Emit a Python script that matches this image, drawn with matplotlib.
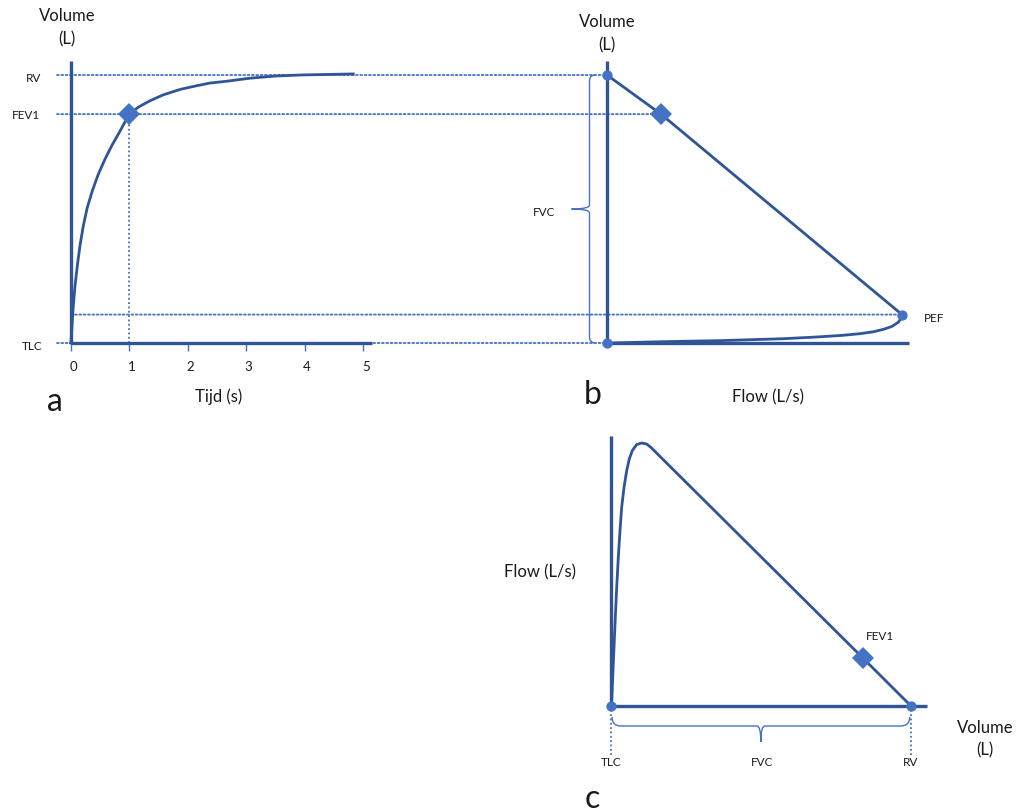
import matplotlib
matplotlib.use("Agg")
import matplotlib.pyplot as plt
from matplotlib.patches import ConnectionPatch, PathPatch
from matplotlib.path import Path

# ---------------- data ----------------
# panel a: volume-time curve (spirogram)
time_s = [0.0, 0.005, 0.022, 0.045, 0.074, 0.113, 0.159, 0.216, 0.284, 0.370, 0.472, 0.586,
          0.701, 0.831, 1.0, 1.156, 1.356, 1.583, 1.868, 2.154, 2.381, 2.64, 3.06, 3.49, 3.92, 4.83]
volume_a = [0.0, 0.013, 0.32, 0.70, 1.07, 1.44, 1.82, 2.19, 2.53, 2.84, 3.15, 3.43,
            3.68, 3.93, 4.27, 4.40, 4.52, 4.63, 4.73, 4.80, 4.85, 4.88, 4.94, 4.98, 5.0, 5.02]
time_ticks = [0, 1, 2, 3, 4, 5]
tick_labels = ["0", "1", "2", "3", "4", "5"]
TLC = 0.0
RV = 5.0
FEV1_time = 1.0
FEV1_vol = 4.27
PEF_vol = 0.53

# panel b: flow (x) vs volume (y)
flow_b = [0.0, 0.33, 1.46, 2.59, 3.74, 4.85, 5.98, 7.11, 8.01, 8.58, 9.04, 9.38, 9.66,
          9.88, 9.99, 10.0, 1.83, 0.0]
volume_b = [0.0, 0.003, 0.019, 0.032, 0.043, 0.061, 0.080, 0.112, 0.144, 0.174, 0.211, 0.256,
            0.31, 0.39, 0.48, 0.53, 4.27, 5.0]
PEF = 10.0
FEV1_flow_b = 1.83

# panel c: volume (x) vs flow (y)
volume_c = [0.0, 0.012, 0.038, 0.067, 0.095, 0.122, 0.150, 0.178, 0.217, 0.262, 0.305, 0.355,
            0.428, 0.512, 0.595, 0.667, 4.20, 5.0]
flow_c = [0.0, 0.19, 1.59, 3.11, 4.51, 5.65, 6.66, 7.55, 8.31, 8.95, 9.39, 9.71,
          9.94, 10.0, 9.96, 9.83, 1.82, 0.0]
FEV1_vol_c = 4.20
FEV1_flow_c = 1.82

# ---------------- style ----------------
W, H, DPI = 1018, 812, 100
LINE = "#2F5597"
MARK = "#4472C4"
DOT = "#4472C4"
TXT = "#1a1a1a"
DOTSTYLE = (0, (1, 1.4))
plt.rcParams["font.family"] = ["Lato", "DejaVu Sans"]

fig = plt.figure(figsize=(W / DPI, H / DPI), dpi=DPI)

# pixel mappings (layout)
xa = lambda t: 70.7 + 58.5 * t
ya = lambda v: 344.0 - 53.6 * v
ta = lambda px: (px - 70.7) / 58.5
Va = lambda py: (344.0 - py) / 53.6
xb = lambda f: 607.0 + 29.5 * f
Fb = lambda px: (px - 607.0) / 29.5
xc = lambda v: 611.0 + 59.94 * v
yc = lambda f: 706.7 - 26.27 * f
Vc = lambda px: (px - 611.0) / 59.94
Fc = lambda py: (706.7 - py) / 26.27


def axes_px(left, top, right, bottom, xinv, yinv):
    ax = fig.add_axes([left / W, 1 - bottom / H, (right - left) / W, (bottom - top) / H])
    ax.set_xlim(xinv(left), xinv(right))
    ax.set_ylim(yinv(bottom), yinv(top))
    ax.axis("off")
    ax.patch.set_alpha(0)
    return ax


def ptext(x, y, s, size=8.5, **kw):
    fig.text(x / W, 1 - y / H, s, fontsize=size, color=TXT, ha=kw.pop("ha", "center"),
             va=kw.pop("va", "center"), **kw)


ax_a = axes_px(0, 0, 430, 430, ta, Va)
ax_b = axes_px(450, 0, 1018, 430, Fb, Va)
ax_c = axes_px(450, 430, 1018, 812, Vc, Fc)

# overlay axes in pixel coordinates for braces
ax_o = fig.add_axes([0, 0, 1, 1])
ax_o.set_xlim(0, W)
ax_o.set_ylim(H, 0)
ax_o.axis("off")
ax_o.patch.set_alpha(0)

DIA = 11.5
DOTMS = 7.4

# ---------------- panel a ----------------
ax_a.plot([0, 0], [TLC, Va(62)], color=LINE, lw=2.4, solid_capstyle="butt", zorder=3)
ax_a.plot([0, ta(372)], [TLC, TLC], color=LINE, lw=2.4, solid_capstyle="butt", zorder=3)
ax_a.vlines(time_ticks, Va(352), TLC, color=MARK, lw=1.0, zorder=2)
ax_a.plot(time_s, volume_a, color=LINE, lw=2.0, zorder=4, solid_joinstyle="round")
ax_a.plot([FEV1_time, FEV1_time], [TLC, FEV1_vol], color=DOT, lw=1.3, ls=DOTSTYLE, zorder=1)
ax_a.plot([FEV1_time], [FEV1_vol], marker="D", ms=DIA, color=MARK, mew=0, zorder=5)
for t, lab in zip(time_ticks, tick_labels):
    ptext(xa(t) + 2.5, 367, lab, size=9.5)

# cross-panel dotted lines a -> b
for v, t0, f1 in [(RV, ta(57), 0.0), (FEV1_vol, ta(57), FEV1_flow_b),
                  (PEF_vol, 0.0, PEF), (TLC, ta(57), 0.0)]:
    cp = ConnectionPatch(xyA=(t0, v), coordsA=ax_a.transData, xyB=(f1, v), coordsB=ax_b.transData,
                         color=DOT, lw=1.3, linestyle=DOTSTYLE, zorder=-1)
    fig.add_artist(cp)

ptext(67, 16, "Volume", size=12)
ptext(67, 39, "(L)", size=12)
ptext(41, ya(RV) + 3, "RV", size=8.5, ha="right")
ptext(40, ya(FEV1_vol), "FEV1", size=8.5, ha="right")
ptext(42, ya(TLC) + 2.5, "TLC", size=8.5, ha="right")
ptext(219, 397, "Tijd (s)", size=12)
ptext(55, 402, "a", size=23)

# ---------------- panel b ----------------
ax_b.plot([0, 0], [TLC, Va(62)], color=LINE, lw=2.4, solid_capstyle="butt", zorder=3)
ax_b.plot([0, Fb(909)], [TLC, TLC], color=LINE, lw=2.4, solid_capstyle="butt", zorder=3)
ax_b.plot(flow_b, volume_b, color=LINE, lw=2.0, zorder=4, solid_joinstyle="round")
ax_b.plot([0, 0, PEF], [TLC, RV, PEF_vol], "o", ms=DOTMS, color=MARK, mew=0, zorder=5)
ax_b.plot([FEV1_flow_b], [FEV1_vol], marker="D", ms=DIA, color=MARK, mew=0, zorder=5)


def brace_v(x, y0, y1, tip, hook):
    ym = (y0 + y1) / 2
    verts = [(x + hook, y0), (x, y0), (x, y0 + hook), (x, ym - 4), (x, ym), (x - tip, ym),
             (x, ym), (x, ym + 4), (x, y1 - hook), (x, y1), (x + hook, y1)]
    codes = [Path.MOVETO, Path.CURVE3, Path.CURVE3, Path.LINETO, Path.CURVE3, Path.CURVE3,
             Path.CURVE3, Path.CURVE3, Path.LINETO, Path.CURVE3, Path.CURVE3]
    ax_o.add_patch(PathPatch(Path(verts, codes), fill=False, edgecolor=MARK, lw=1.0))


def brace_h(y, x0, x1, tip, hook):
    xm = (x0 + x1) / 2
    verts = [(x0, y - hook), (x0, y), (x0 + hook, y), (xm - 4, y), (xm, y), (xm, y + tip),
             (xm, y), (xm + 4, y), (x1 - hook, y), (x1, y), (x1, y - hook)]
    codes = [Path.MOVETO, Path.CURVE3, Path.CURVE3, Path.LINETO, Path.CURVE3, Path.CURVE3,
             Path.CURVE3, Path.CURVE3, Path.LINETO, Path.CURVE3, Path.CURVE3]
    ax_o.add_patch(PathPatch(Path(verts, codes), fill=False, edgecolor=MARK, lw=1.0))


brace_v(589.5, ya(RV), ya(TLC), 18, 6)
ptext(544, 212, "FVC", size=8.5)
ptext(934, 318, "PEF", size=8.5)
ptext(607, 22, "Volume", size=12)
ptext(607, 45, "(L)", size=12)
ptext(768, 397, "Flow (L/s)", size=12)
ptext(593, 395, "b", size=23)

# ---------------- panel c ----------------
ax_c.plot([0, 0], [0, Fc(436.7)], color=LINE, lw=2.4, solid_capstyle="butt", zorder=3)
ax_c.plot([0, Vc(927)], [0, 0], color=LINE, lw=2.4, solid_capstyle="butt", zorder=3)
ax_c.plot(volume_c, flow_c, color=LINE, lw=2.0, zorder=4, solid_joinstyle="round")
ax_c.plot([TLC, RV], [0, 0], "o", ms=DOTMS, color=MARK, mew=0, zorder=5)
ax_c.plot([FEV1_vol_c], [FEV1_flow_c], marker="D", ms=DIA, color=MARK, mew=0, zorder=5)
ax_c.vlines([TLC, RV], Fc(756), 0, color=DOT, lw=1.3, linestyles=[DOTSTYLE], zorder=1)
brace_h(727, xc(TLC) + 1, xc(RV) - 1, 16, 9)
ptext(540, 572, "Flow (L/s)", size=12)
ptext(880, 637, "FEV1", size=8.5)
ptext(985, 728, "Volume", size=12)
ptext(985, 750, "(L)", size=12)
ptext(xc(TLC), 763, "TLC", size=8.5)
ptext(762, 763, "FVC", size=8.5)
ptext(xc(RV), 763, "RV", size=8.5)
ptext(592, 799, "c", size=23)

fig.savefig("out.png", dpi=DPI)
